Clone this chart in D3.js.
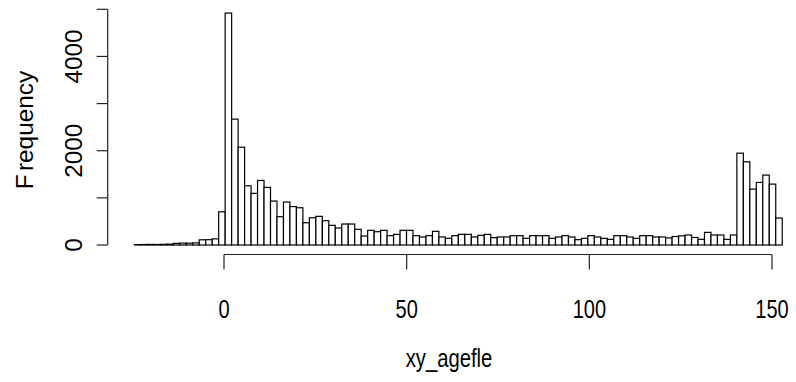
<!DOCTYPE html>
<html><head><meta charset="utf-8">
<script src="https://cdn.jsdelivr.net/npm/d3@7"></script>
<style>body{margin:0;background:#fff}svg{display:block}text{font-family:"Liberation Sans",Arial,sans-serif;fill:#000}</style>
</head><body><svg id="c" width="796" height="382"></svg>
<script>
const binStart = -24.64;
const binWidth = 1.773;
const counts = [8,10,12,10,14,18,35,40,38,45,
110,112,130,705,4920,2670,2075,1256,1095,1370,
1222,932,600,911,815,790,472,578,608,515,
417,360,445,445,332,190,311,282,311,198,
226,311,311,198,170,198,290,170,141,198,
226,226,170,205,226,155,170,170,198,198,
141,198,198,198,141,170,198,170,113,141,
198,170,141,120,198,198,170,141,198,198,
170,170,150,180,195,212,160,120,268,212,
212,120,212,1948,1765,1186,1327,1483,1292,572];
const xTicks = [0,50,100,150];
const yTicks = [0,1000,2000,3000,4000,5000];
const yLabels = [0,2000,4000];
const xTitle = "xy_agefle";
const yTitle = "Frequency";

const svg = d3.select("#c");
const x = d3.scaleLinear().domain([0,150]).range([224,772]);
const y = d3.scaleLinear().domain([0,5000]).range([245,9.3]);
const bins = counts.map((c,i)=>({x0: binStart+i*binWidth, x1: binStart+(i+1)*binWidth, n:c}));

svg.append("g").selectAll("rect").data(bins).join("rect")
  .attr("x", d=>x(d.x0)+0.5).attr("width", d=>x(d.x1)-x(d.x0))
  .attr("y", d=>y(d.n)).attr("height", d=>y(0)-y(d.n))
  .attr("fill","#fff").attr("stroke","#000").attr("stroke-width",1.2);

// x axis
const xa = svg.append("g").attr("transform","translate(0,254.5)");
xa.append("line").attr("x1",x(0)).attr("x2",x(150)).attr("stroke","#222").attr("stroke-width",1.2);
xa.selectAll("line.t").data(xTicks).join("line").attr("class","t")
  .attr("x1",d=>x(d)).attr("x2",d=>x(d)).attr("y1",0).attr("y2",15).attr("stroke","#222").attr("stroke-width",1.2);
xa.selectAll("text").data(xTicks).join("text")
  .attr("transform",d=>`translate(${x(d)},63) scale(0.87,1.1)`)
  .attr("text-anchor","middle").attr("font-size",23).text(d=>d);

// y axis
const ya = svg.append("g").attr("transform","translate(107.7,0)");
ya.append("line").attr("y1",y(0)).attr("y2",y(5000)).attr("stroke","#222").attr("stroke-width",1.2);
ya.selectAll("line.t").data(yTicks).join("line").attr("class","t")
  .attr("y1",d=>y(d)).attr("y2",d=>y(d)).attr("x1",0).attr("x2",-11).attr("stroke","#222").attr("stroke-width",1.2);
ya.selectAll("text").data(yLabels).join("text")
  .attr("transform",d=>`translate(-26,${y(d)}) rotate(-90) scale(1.06,1)`)
  .attr("text-anchor","middle").attr("font-size",23).text(d=>d);

svg.append("text").attr("transform","translate(449,367) scale(0.88,1.1)")
  .attr("text-anchor","middle").attr("font-size",23).text(xTitle);
const yt = svg.append("text").attr("transform","translate(33,130) rotate(-90) scale(1.06,1)")
  .attr("text-anchor","middle").attr("font-size",23);
yt.append("tspan").text(yTitle.slice(0,1));
yt.append("tspan").attr("dx",3).text(yTitle.slice(1));
</script></body></html>
